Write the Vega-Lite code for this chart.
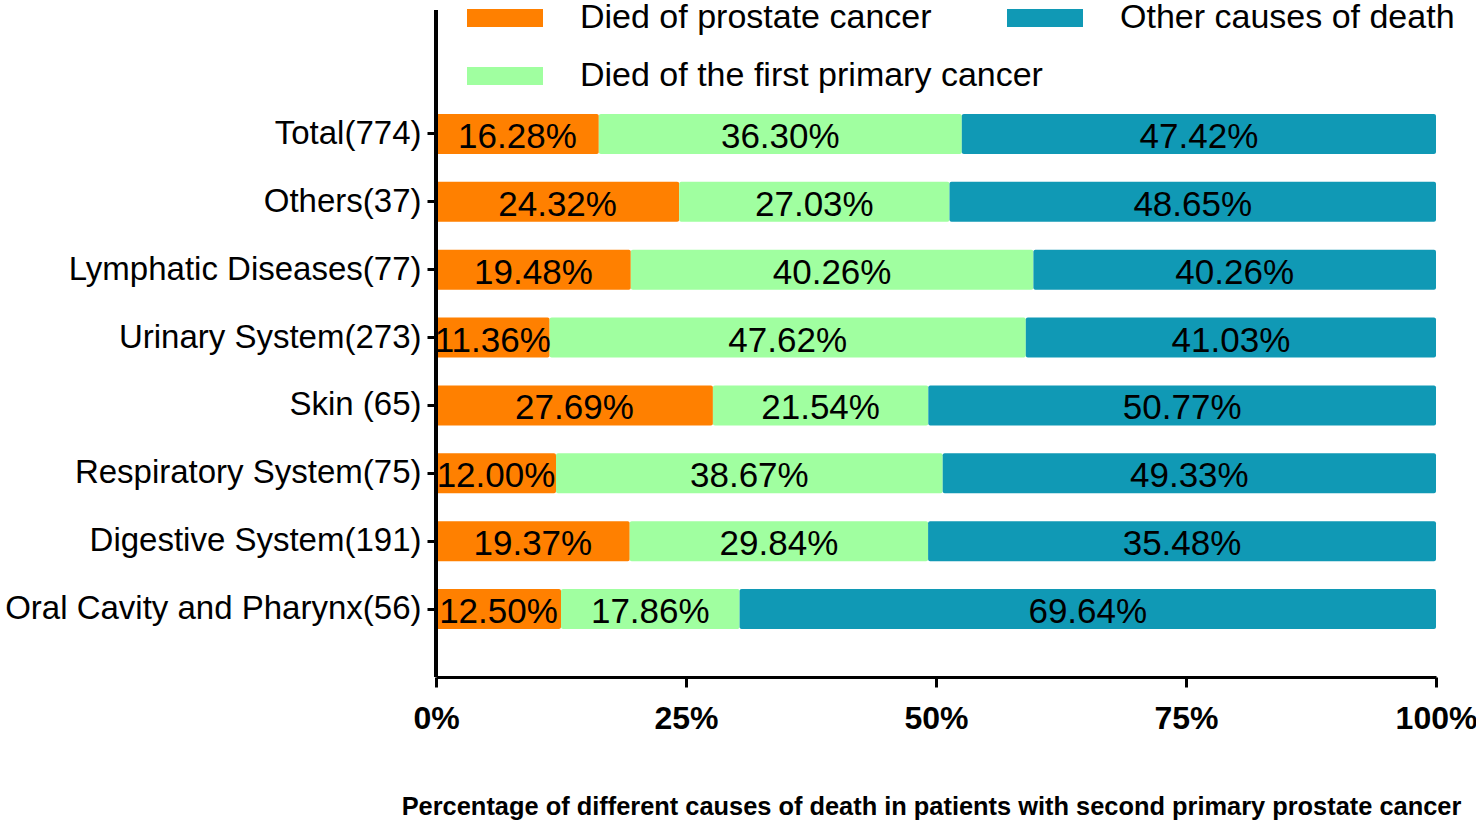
{
  "$schema": "https://vega.github.io/schema/vega-lite/v6.json",
  "width": 1000,
  "height": 667,
  "autosize": {"type": "none"},
  "padding": {"left": 436, "top": 10, "right": 40, "bottom": 146},
  "background": "white",
  "data": {
    "values": [
      {"group": "Total(774)", "cause": "Died of prostate cancer", "ord": 1, "value": 16.28, "label": "16.28%"},
      {"group": "Total(774)", "cause": "Died of the first primary cancer", "ord": 2, "value": 36.30, "label": "36.30%"},
      {"group": "Total(774)", "cause": "Other causes of death", "ord": 3, "value": 47.42, "label": "47.42%"},
      {"group": "Others(37)", "cause": "Died of prostate cancer", "ord": 1, "value": 24.32, "label": "24.32%"},
      {"group": "Others(37)", "cause": "Died of the first primary cancer", "ord": 2, "value": 27.03, "label": "27.03%"},
      {"group": "Others(37)", "cause": "Other causes of death", "ord": 3, "value": 48.65, "label": "48.65%"},
      {"group": "Lymphatic  Diseases(77)", "cause": "Died of prostate cancer", "ord": 1, "value": 19.48, "label": "19.48%"},
      {"group": "Lymphatic  Diseases(77)", "cause": "Died of the first primary cancer", "ord": 2, "value": 40.26, "label": "40.26%"},
      {"group": "Lymphatic  Diseases(77)", "cause": "Other causes of death", "ord": 3, "value": 40.26, "label": "40.26%"},
      {"group": "Urinary System(273)", "cause": "Died of prostate cancer", "ord": 1, "value": 11.36, "label": "11.36%"},
      {"group": "Urinary System(273)", "cause": "Died of the first primary cancer", "ord": 2, "value": 47.62, "label": "47.62%"},
      {"group": "Urinary System(273)", "cause": "Other causes of death", "ord": 3, "value": 41.02, "label": "41.03%"},
      {"group": "Skin (65)", "cause": "Died of prostate cancer", "ord": 1, "value": 27.69, "label": "27.69%"},
      {"group": "Skin (65)", "cause": "Died of the first primary cancer", "ord": 2, "value": 21.54, "label": "21.54%"},
      {"group": "Skin (65)", "cause": "Other causes of death", "ord": 3, "value": 50.77, "label": "50.77%"},
      {"group": "Respiratory System(75)", "cause": "Died of prostate cancer", "ord": 1, "value": 12.00, "label": "12.00%"},
      {"group": "Respiratory System(75)", "cause": "Died of the first primary cancer", "ord": 2, "value": 38.67, "label": "38.67%"},
      {"group": "Respiratory System(75)", "cause": "Other causes of death", "ord": 3, "value": 49.33, "label": "49.33%"},
      {"group": "Digestive System(191)", "cause": "Died of prostate cancer", "ord": 1, "value": 19.37, "label": "19.37%"},
      {"group": "Digestive System(191)", "cause": "Died of the first primary cancer", "ord": 2, "value": 29.84, "label": "29.84%"},
      {"group": "Digestive System(191)", "cause": "Other causes of death", "ord": 3, "value": 50.79, "label": "35.48%"},
      {"group": "Oral Cavity and Pharynx(56)", "cause": "Died of prostate cancer", "ord": 1, "value": 12.50, "label": "12.50%"},
      {"group": "Oral Cavity and Pharynx(56)", "cause": "Died of the first primary cancer", "ord": 2, "value": 17.86, "label": "17.86%"},
      {"group": "Oral Cavity and Pharynx(56)", "cause": "Other causes of death", "ord": 3, "value": 69.64, "label": "69.64%"}
    ]
  },
  "transform": [
    {"stack": "value", "groupby": ["group"], "sort": [{"field": "ord", "order": "ascending"}], "as": ["x0", "x1"]},
    {"calculate": "(datum.x0 + datum.x1) / 2", "as": "mid"}
  ],
  "layer": [
    {
      "mark": {"type": "bar", "cornerRadius": 2},
      "encoding": {
        "y": {
          "field": "group",
          "type": "nominal",
          "sort": ["Total(774)", "Others(37)", "Lymphatic  Diseases(77)", "Urinary System(273)", "Skin (65)", "Respiratory System(75)", "Digestive System(191)", "Oral Cavity and Pharynx(56)"],
          "scale": {"range": [90, 633], "paddingInner": 0.41, "paddingOuter": 0.205},
          "axis": {
            "title": null,
            "domain": false,
            "labelFont": "Liberation Sans",
            "labelFontSize": 33,
            "labelColor": "black",
            "labelLimit": 600,
            "labelPadding": 6,
            "tickColor": "black",
            "tickWidth": 3,
            "tickSize": 9
          }
        },
        "x": {
          "field": "x0",
          "type": "quantitative",
          "scale": {"domain": [0, 100], "nice": false},
          "axis": {
            "title": "Percentage of different causes of death in patients with second primary prostate cancer",
            "values": [0, 25, 50, 75, 100],
            "labelExpr": "datum.value + '%'",
            "labelFont": "Liberation Sans",
            "labelFontWeight": "bold",
            "labelFontSize": 32,
            "labelColor": "black",
            "labelPadding": 16,
            "labelFlush": false,
            "labelOverlap": false,
            "grid": false,
            "domainColor": "black",
            "domainWidth": 3,
            "tickColor": "black",
            "tickWidth": 3,
            "tickSize": 10,
            "titleFont": "Liberation Sans",
            "titleFontWeight": "bold",
            "titleFontSize": 25.4,
            "titleColor": "black",
            "titlePadding": 60,
            "titleX": 495,
            "titleAlign": "center"
          }
        },
        "x2": {"field": "x1"},
        "color": {
          "field": "cause",
          "type": "nominal",
          "scale": {
            "domain": ["Died of prostate cancer", "Other causes of death", "Died of the first primary cancer"],
            "range": ["#FF8000", "#1099B5", "#A0FFA0"]
          },
          "legend": {
            "title": null,
            "orient": "none",
            "direction": "horizontal",
            "legendX": 31,
            "legendY": -30,
            "columns": 2,
            "gridAlign": "none",
            "columnPadding": -36,
            "rowPadding": 3,
            "symbolType": "M-1,-0.237H1V0.237H-1Z",
            "symbolSize": 5776,
            "symbolStrokeWidth": 0,
            "symbolOpacity": 1,
            "labelOffset": 37,
            "labelFont": "Liberation Sans",
            "labelFontSize": 34,
            "labelColor": "black",
            "labelLimit": 800
          }
        }
      }
    },
    {
      "mark": {"type": "text", "font": "Liberation Sans", "fontSize": 35, "color": "black", "align": "center", "baseline": "middle", "dy": 3},
      "encoding": {
        "y": {
          "field": "group",
          "type": "nominal",
          "sort": ["Total(774)", "Others(37)", "Lymphatic  Diseases(77)", "Urinary System(273)", "Skin (65)", "Respiratory System(75)", "Digestive System(191)", "Oral Cavity and Pharynx(56)"]
        },
        "x": {"field": "mid", "type": "quantitative"},
        "text": {"field": "label"}
      }
    },
    {
      "mark": {"type": "rule", "color": "black", "strokeWidth": 3},
      "encoding": {
        "x": {"datum": 0}
      }
    }
  ],
  "config": {
    "view": {"stroke": null}
  }
}
